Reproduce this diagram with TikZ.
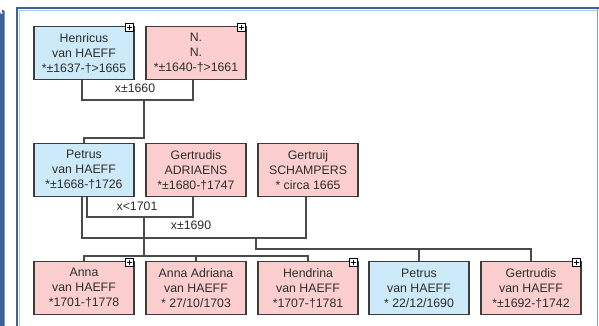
\documentclass[tikz,border=0pt]{standalone}
\usepackage{fontspec}
\setmainfont{Liberation Sans}
\usetikzlibrary{calc}
\definecolor{frameblue}{RGB}{58,98,150}
\definecolor{framelight}{RGB}{128,158,200}
\definecolor{malefill}{RGB}{204,234,250}
\definecolor{femalefill}{RGB}{252,206,206}
\definecolor{boxline}{RGB}{60,60,60}
\definecolor{connline}{RGB}{75,75,75}
\definecolor{txt}{RGB}{45,45,45}
\tikzset{
  person/.style={draw=boxline, line width=1.1pt, minimum width=100pt, minimum height=53pt,
    inner sep=0pt, align=center, text=txt, font=\fontsize{12.3}{15}\selectfont},
  male/.style={person, fill=malefill},
  female/.style={person, fill=femalefill},
  conn/.style={draw=connline, line width=1.3pt},
  marlabel/.style={inner sep=0pt, text=txt, font=\fontsize{12.3}{15}\selectfont},
  plusbox/.style={draw=black, fill=white, line width=0.8pt, minimum size=8pt, inner sep=0pt,
    anchor=north east,
    path picture={\draw[line width=1pt] ($(path picture bounding box.center)+(-2.6,0)$) -- ($(path picture bounding box.center)+(2.6,0)$);
      \draw[line width=1pt] ($(path picture bounding box.center)+(0,-2.6)$) -- ($(path picture bounding box.center)+(0,2.6)$);}}
}
\begin{document}
\begin{tikzpicture}[x=1pt, y=-1pt]
\useasboundingbox (0,0) rectangle (599,326);
\fill[white] (0,0) rectangle (599,326);
% window frame
\fill[frameblue] (0,326) -- (0,12) arc[start angle=180, end angle=90, radius=2.5] -- (2,9.5) -- (4.5,11) -- (4.5,326) -- cycle;
\draw[framelight, line width=1.2pt] (597.6,8) -- (597.6,326);
\draw[frameblue, line width=2.6pt] (17,326) -- (17,8) -- (598.5,8);
\draw[framelight!60, line width=0.8pt] (19,326) -- (19,10) -- (596.5,10);

% generation 1
\node[male]   (hen) at (84,53)  {Henricus\\van HAEFF\\*±1637-†>1665};
\node[female] (nn)  at (196,53) {N.\\N.\\*±1640-†>1661};
% generation 2
\node[male]   (pet) at (84,170)  {Petrus\\van HAEFF\\*±1668-†1726};
\node[female] (ga)  at (196,170) {Gertrudis\\ADRIAENS\\*±1680-†1747};
\node[female] (gs)  at (308,170) {Gertruij\\SCHAMPERS\\* circa 1665};
% generation 3
\node[female] (c1) at (84,288)  {Anna\\van HAEFF\\*1701-†1778};
\node[female] (c2) at (196,288) {Anna Adriana\\van HAEFF\\* 27/10/1703};
\node[female] (c3) at (308,288) {Hendrina\\van HAEFF\\*1707-†1781};
\node[male]   (c4) at (419,288) {Petrus\\van HAEFF\\* 22/12/1690};
\node[female] (c5) at (531,288) {Gertrudis\\van HAEFF\\*±1692-†1742};

% plus markers
\node[plusbox] (phen) at ($(hen.north east)+(-0.5,-2.5)$) {};
\node[plusbox] (pnn)  at ($(nn.north east)+(-0.5,-2.5)$) {};
\node[plusbox] (pc1)  at ($(c1.north east)+(-0.5,-2.5)$) {};
\node[plusbox] (pc3)  at ($(c3.north east)+(-0.5,-2.5)$) {};
\node[plusbox] (pc5)  at ($(c5.north east)+(-0.5,-2.5)$) {};

% junction coordinates
\coordinate (j1) at (144,100);
\coordinate (k1) at (144,138);
\coordinate (j2) at (144,217);
\coordinate (b1) at (144,256);
\coordinate (j3) at (256,238);
\coordinate (b2) at (256,249);

% marriage Henricus x N.
\draw[conn] ($(hen.south)+(-2,0)$) |- (j1) -| ($(nn.south)+(-3,0)$);
\node[marlabel] (l1) at (135,88) {x±1660};
\draw[conn] (j1) -- (k1) -| (pet.north);

% marriage Petrus x Gertrudis Adriaens
\draw[conn] ($(pet.south)+(3,0)$) |- (j2) -| ($(ga.south)+(-3,0)$);
\node[marlabel] (l2) at (137,206) {x<1701};
\draw[conn] (j2) -- (b1);
\draw[conn] (c1.north) |- (b1);
\draw[conn] (b1) -| (c2.north);
\draw[conn] (b1) -| (c3.north);

% marriage Petrus x Gertruij Schampers
\draw[conn] ($(pet.south)+(-2,0)$) |- (j3) -| ($(gs.south)+(-2,0)$);
\node[marlabel] (l3) at (191,225) {x±1690};
\draw[conn] (j3) -- (b2) -| (c4.north);
\draw[conn] (b2) -| (c5.north);
\end{tikzpicture}
\end{document}
